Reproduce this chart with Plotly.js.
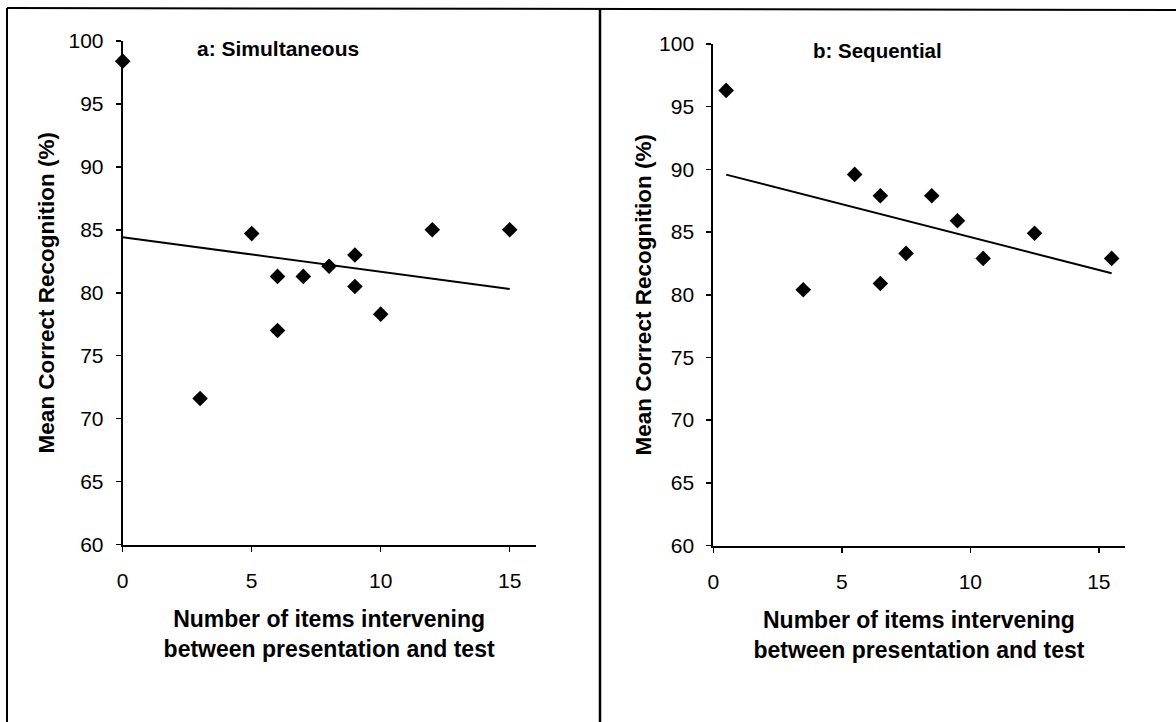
<!DOCTYPE html>
<html>
<head>
<meta charset="utf-8">
<script src="https://cdn.plot.ly/plotly-3.0.1.min.js"></script>
<style>
  html, body { margin: 0; padding: 0; background: #ffffff; }
  #chart { width: 1176px; height: 722px; }
</style>
</head>
<body>
<div id="chart"></div>
<script>
// ---- Data ----
const panelTitles = ["a: Simultaneous", "b: Sequential"];
const xTickVals = [0, 5, 10, 15];
const yTickVals = [60, 65, 70, 75, 80, 85, 90, 95, 100];

// Panel a: Simultaneous
const simX = [0, 3, 5, 6, 6, 7, 8, 9, 9, 10, 12, 15];
const simY = [98.4, 71.6, 84.7, 81.3, 77.0, 81.3, 82.1, 83.0, 80.5, 78.3, 85.0, 85.0];

// Panel b: Sequential
const seqX = [0.5, 3.5, 5.5, 6.5, 6.5, 7.5, 8.5, 9.5, 10.5, 12.5, 15.5];
const seqY = [96.3, 80.4, 89.6, 87.9, 80.9, 83.3, 87.9, 85.9, 82.9, 84.9, 82.9];

const xTitle = "Number of items intervening<br>between presentation and test";
const yTitle = "Mean Correct Recognition (%)";

// ---- Least-squares linear trend line over the data range ----
function linearFit(xs, ys) {
  const n = xs.length;
  const mx = xs.reduce((a, b) => a + b, 0) / n;
  const my = ys.reduce((a, b) => a + b, 0) / n;
  let sxy = 0, sxx = 0;
  for (let i = 0; i < n; i++) {
    sxy += (xs[i] - mx) * (ys[i] - my);
    sxx += (xs[i] - mx) * (xs[i] - mx);
  }
  const slope = sxy / sxx;
  const intercept = my - slope * mx;
  const x0 = Math.min(...xs), x1 = Math.max(...xs);
  return { x: [x0, x1], y: [intercept + slope * x0, intercept + slope * x1] };
}

const fitA = linearFit(simX, simY);
const fitB = linearFit(seqX, seqY);

const FONT = "'Liberation Sans', Arial, Helvetica, sans-serif";
const W = 1176, H = 722;

const markerStyle = { symbol: "diamond", size: 12, color: "#000000", line: { width: 0 } };

const traces = [
  { x: fitA.x, y: fitA.y, type: "scatter", mode: "lines", xaxis: "x", yaxis: "y",
    line: { color: "#000000", width: 2 }, hoverinfo: "skip", cliponaxis: false },
  { x: simX, y: simY, type: "scatter", mode: "markers", xaxis: "x", yaxis: "y",
    marker: markerStyle, cliponaxis: false, name: panelTitles[0] },
  { x: fitB.x, y: fitB.y, type: "scatter", mode: "lines", xaxis: "x2", yaxis: "y2",
    line: { color: "#000000", width: 2 }, hoverinfo: "skip", cliponaxis: false },
  { x: seqX, y: seqY, type: "scatter", mode: "markers", xaxis: "x2", yaxis: "y2",
    marker: markerStyle, cliponaxis: false, name: panelTitles[1] }
];

function xAxis(domain, anchor) {
  return {
    domain: domain, anchor: anchor, range: [0, 16],
    tickmode: "array", tickvals: xTickVals,
    ticks: "outside", ticklen: 5, tickwidth: 1.5, tickcolor: "#000000",
    showline: true, linecolor: "#000000", linewidth: 2,
    showgrid: false, zeroline: false, mirror: false,
    ticklabelstandoff: 11,
    tickfont: { family: FONT, size: 21, color: "#000000" },
    title: { text: xTitle, standoff: 20,
             font: { family: FONT, size: 23, color: "#000000", weight: "bold" } },
    fixedrange: true
  };
}
function yAxis(domain, anchor, standoff) {
  return {
    domain: domain, anchor: anchor, range: [60, 100],
    tickmode: "array", tickvals: yTickVals,
    ticks: "outside", ticklen: 5, tickwidth: 1.5, tickcolor: "#000000",
    showline: true, linecolor: "#000000", linewidth: 2,
    showgrid: false, zeroline: false, mirror: false,
    ticklabelstandoff: 8,
    tickfont: { family: FONT, size: 21, color: "#000000" },
    title: { text: yTitle, standoff: standoff,
             font: { family: FONT, size: 22.5, color: "#000000", weight: "bold" } },
    fixedrange: true
  };
}

const layout = {
  width: W, height: H,
  margin: { l: 0, r: 0, t: 0, b: 0, pad: 0 },
  paper_bgcolor: "#ffffff", plot_bgcolor: "#ffffff",
  showlegend: false,
  xaxis: xAxis([122.7 / W, 535.5 / W], "y"),
  yaxis: yAxis([1 - 544.5 / H, 1 - 41 / H], "x", 8),
  xaxis2: xAxis([713.3 / W, 1124.5 / W], "y2"),
  yaxis2: yAxis([1 - 545.5 / H, 1 - 44 / H], "x2", 1),
  annotations: [
    { text: panelTitles[0], xref: "paper", yref: "paper", x: 278 / W, y: 1 - 48 / H,
      xanchor: "center", yanchor: "middle", showarrow: false,
      font: { family: FONT, size: 21, color: "#000000", weight: "bold" } },
    { text: panelTitles[1], xref: "paper", yref: "paper", x: 877 / W, y: 1 - 50 / H,
      xanchor: "center", yanchor: "middle", showarrow: false,
      font: { family: FONT, size: 20.5, color: "#000000", weight: "bold" } }
  ],
  shapes: [
    { type: "line", xref: "paper", yref: "paper", x0: 7 / W, x1: 1, y0: 1 - 8 / H, y1: 1 - 10 / H,
      line: { color: "#000000", width: 2 } },
    { type: "line", xref: "paper", yref: "paper", x0: 7 / W, x1: 7 / W, y0: 1 - 8 / H, y1: 0,
      line: { color: "#000000", width: 2 } },
    { type: "line", xref: "paper", yref: "paper", x0: 600 / W, x1: 600 / W, y0: 1 - 9 / H, y1: 0,
      line: { color: "#000000", width: 2.5 } }
  ]
};

Plotly.newPlot("chart", traces, layout, { displayModeBar: false, staticPlot: true });
</script>
</body>
</html>
